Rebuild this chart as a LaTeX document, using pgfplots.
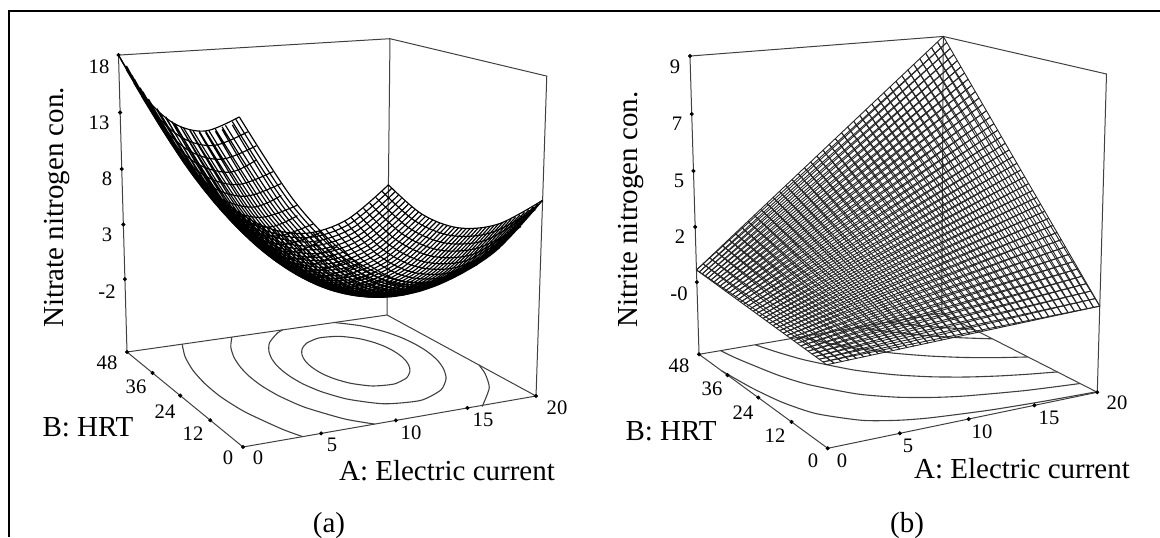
\documentclass[border=0pt]{standalone}
\usepackage{fontspec}
\setmainfont{Liberation Serif}
\usepackage{pgfplots}
\pgfplotsset{compat=1.18}
\newcommand\tickf{\fontsize{10.3}{12}\selectfont}
\newcommand\labf{\fontsize{14.5}{16}\selectfont}
\definecolor{boxc}{gray}{0.25}
\tikzset{declare function={
 ax(\u,\v,\w)=(243+341.8*\u-93.25*\v-16.05*\w)/(1+.091*\u+.1791*\v-.0508*\w);
 ay(\u,\v,\w)=(447-14.96*\u-31.96*\v-352.9*\w)/(1+.091*\u+.1791*\v-.0508*\w);
 bx(\u,\v,\w)=(827.7+374.6*\u-8.3*\v-44.9*\w)/(1+.0957*\u+.1722*\v-.0497*\w);
 by(\u,\v,\w)=(448.3-18.5*\u-33*\v-352.4*\w)/(1+.0957*\u+.1722*\v-.0497*\w);
}}
\pgfplotsset{
 table/PA/.style={x expr={ax(\thisrow{A}/20,\thisrow{B}/48,(\thisrow{z}+8.8)/26.8)},y expr={ay(\thisrow{A}/20,\thisrow{B}/48,(\thisrow{z}+8.8)/26.8)}},
 table/PB/.style={x expr={bx(\thisrow{A}/20,\thisrow{B}/48,(\thisrow{z}+3)/12)},y expr={by(\thisrow{A}/20,\thisrow{B}/48,(\thisrow{z}+3)/12)}},
 % surface (a), lines of constant B: B = 1.2 j, seven nodes A = 0, 10/3, ... 20, then a gap
 table/MR/.style={x expr={ax(mod(\coordindex,8)/6,floor(\coordindex/8)/40,(\thisrow{z}+8.8)/26.8)},y expr={ay(mod(\coordindex,8)/6,floor(\coordindex/8)/40,(\thisrow{z}+8.8)/26.8)}},
 % surface (a), lines of constant A: A = 0.5 i, five nodes B = 0, 12, ... 48, then a gap
 table/MC/.style={x expr={ax(floor(\coordindex/6)/40,mod(\coordindex,6)/4,(\thisrow{z}+8.8)/26.8)},y expr={ay(floor(\coordindex/6)/40,mod(\coordindex,6)/4,(\thisrow{z}+8.8)/26.8)}},
 panel/.style={hide axis,scale only axis,width=290pt,height=268.5pt,ymin=0,ymax=537,y dir=reverse,clip=false,unbounded coords=jump,
   colormap={bk}{color(0)=(black) color(1)=(black)},point meta min=0,point meta max=1},
 boxline/.style={no marks,boxc,line width=.5pt,forget plot},
 cont/.style={no marks,boxc,line width=.55pt,smooth,tension=.4,forget plot},
 tick/.style={only marks,mark=*,mark size=.8pt,black,forget plot},
 surfa/.style={no marks,black,line width=.58pt,smooth,tension=.55,forget plot},
}
\begin{document}
\begin{tikzpicture}
\path[use as bounding box] (0,0) rectangle (580pt,268.5pt);
\begin{axis}[panel,xmin=0,xmax=580,at={(0,0)},anchor=south west]
\draw[black,line width=1.2pt] (axis cs:9,537)--(axis cs:9,11)--(axis cs:580,11);
\addplot[boxline] table[PA]{
A B z
0 48 -8.8
0 48 18
20 48 18
20 48 -8.8
0 48 -8.8
0 0 -8.8
20 0 -8.8
20 48 -8.8
};
\addplot[boxline] table[PA]{
A B z
20 48 18
20 0 18
20 0 -8.8
};
\addplot[tick] table[PA]{
A B z
0 48 18
0 48 13
0 48 8
0 48 3
0 48 -2
0 48 -8.8
0 36 -8.8
0 24 -8.8
0 12 -8.8
0 0 -8.8
5 0 -8.8
10 0 -8.8
15 0 -8.8
20 0 -8.8
};
% contours on the floor
\addplot[cont] table[PA]{
A B z
16.33 27.76 -8.8
16.35 29.86 -8.8
16.28 32.18 -8.8
16.04 34.85 -8.8
15.51 37.83 -8.8
14.50 40.43 -8.8
13.09 41.08 -8.8
11.79 39.37 -8.8
10.93 36.73 -8.8
10.42 34.17 -8.8
10.12 31.88 -8.8
9.94 29.79 -8.8
9.85 27.76 -8.8
9.83 25.66 -8.8
9.90 23.34 -8.8
10.14 20.68 -8.8
10.67 17.69 -8.8
11.68 15.09 -8.8
13.09 14.44 -8.8
14.39 16.15 -8.8
15.25 18.79 -8.8
15.76 21.35 -8.8
16.06 23.64 -8.8
16.24 25.73 -8.8
16.33 27.76 -8.8
};
\addplot[cont] table[PA]{
A B z
11.62 48 -8.8
10.97 46.73 -8.8
9.56 42.42 -8.8
8.73 38.23 -8.8
8.23 34.49 -8.8
7.94 31.07 -8.8
7.79 27.76 -8.8
7.76 24.33 -8.8
7.88 20.54 -8.8
8.27 16.18 -8.8
9.13 11.31 -8.8
10.78 7.06 -8.8
13.09 5.99 -8.8
15.21 8.79 -8.8
16.62 13.10 -8.8
17.45 17.29 -8.8
17.95 21.03 -8.8
18.24 24.45 -8.8
18.39 27.76 -8.8
18.42 31.19 -8.8
18.30 34.98 -8.8
17.91 39.34 -8.8
17.05 44.21 -8.8
15.7 48 -8.8
};
\addplot[cont] table[PA]{
A B z
7.71 48 -8.8
6.75 42.97 -8.8
6.04 37.53 -8.8
5.62 32.57 -8.8
5.39 27.76 -8.8
5.34 22.78 -8.8
5.53 17.28 -8.8
6.08 10.95 -8.8
7.34 3.86 -8.8
8.56 0 -8.8
};
\addplot[cont] table[PA]{
A B z
20 16.7 -8.8
19.43 12.55 -8.8
18.21 6.47 -8.8
16.17 0.21 -8.8
16.06 0 -8.8
};
\addplot[cont] table[PA]{
A B z
4.0 48 -8.8
3.16 41.51 -8.8
2.57 34.53 -8.8
2.26 27.76 -8.8
2.19 20.75 -8.8
2.45 13.01 -8.8
3.23 4.10 -8.8
3.8 0 -8.8
};
\addplot[surfa] table[MR]{
z
16.70
9.96
5.32
2.80
2.39
4.09
7.90
nan
16.42
9.65
5.00
2.45
2.02
3.70
7.49
nan
16.15
9.36
4.68
2.12
1.67
3.32
7.09
nan
15.90
9.09
4.39
1.80
1.33
2.97
6.71
nan
15.66
8.83
4.11
1.51
1.01
2.62
6.35
nan
15.44
8.59
3.85
1.22
.70
2.30
6.00
nan
15.24
8.37
3.60
.95
.42
1.99
5.67
nan
15.05
8.16
3.37
.70
.14
1.70
5.36
nan
14.88
7.97
3.16
.47
-.11
1.42
5.06
nan
14.73
7.79
2.97
.25
-.35
1.16
4.78
nan
14.59
7.63
2.78
.05
-.57
.91
4.51
nan
14.47
7.49
2.62
-.14
-.78
.69
4.26
nan
14.36
7.36
2.47
-.31
-.97
.47
4.03
nan
14.27
7.25
2.34
-.46
-1.15
.28
3.81
nan
14.20
7.16
2.22
-.60
-1.30
.10
3.61
nan
14.14
7.08
2.13
-.72
-1.45
-.06
3.43
nan
14.10
7.02
2.04
-.82
-1.57
-.21
3.26
nan
14.08
6.97
1.98
-.91
-1.68
-.34
3.11
nan
14.07
6.94
1.92
-.98
-1.77
-.46
2.97
nan
14.08
6.93
1.89
-1.04
-1.85
-.55
2.85
nan
14.10
6.93
1.87
-1.08
-1.91
-.64
2.75
nan
14.14
6.95
1.87
-1.10
-1.96
-.70
2.66
nan
14.20
6.99
1.88
-1.10
-1.98
-.75
2.59
nan
14.27
7.04
1.92
-1.10
-2.00
-.78
2.54
nan
14.36
7.11
1.96
-1.07
-1.99
-.80
2.50
nan
14.47
7.19
2.03
-1.03
-1.97
-.80
2.48
nan
14.59
7.29
2.10
-.97
-1.93
-.79
2.47
nan
14.73
7.41
2.20
-.90
-1.88
-.75
2.48
nan
14.88
7.54
2.31
-.81
-1.81
-.71
2.51
nan
15.05
7.69
2.44
-.70
-1.73
-.64
2.55
nan
15.24
7.86
2.58
-.58
-1.62
-.56
2.61
nan
15.44
8.04
2.75
-.44
-1.51
-.46
2.69
nan
15.66
8.24
2.92
-.28
-1.37
-.35
2.78
nan
15.90
8.45
3.12
-.11
-1.22
-.22
2.89
nan
16.15
8.68
3.32
.08
-1.05
-.08
3.01
nan
16.42
8.93
3.55
.29
-.87
.09
3.15
nan
16.70
9.19
3.79
.51
-.67
.26
3.31
nan
17.00
9.47
4.05
.74
-.46
.46
3.48
nan
17.32
9.77
4.33
1.00
-.22
.67
3.67
nan
17.65
10.08
4.62
1.27
.03
.90
3.88
nan
18.00
10.41
4.92
1.55
.29
1.14
4.10
};
\addplot[surfa] table[MC]{
z
16.70
14.59
14.10
15.24
18.00
nan
15.55
13.41
12.89
14.00
16.73
nan
14.46
12.28
11.73
12.80
15.50
nan
13.40
11.20
10.61
11.65
14.32
nan
12.40
10.16
9.55
10.55
13.19
nan
11.44
9.17
8.53
9.50
12.11
nan
10.54
8.23
7.55
8.50
11.07
nan
9.67
7.34
6.63
7.54
10.08
nan
8.86
6.49
5.75
6.63
9.14
nan
8.09
5.69
4.92
5.77
8.25
nan
7.38
4.94
4.14
4.96
7.40
nan
6.70
4.24
3.40
4.19
6.60
nan
6.08
3.58
2.72
3.47
5.85
nan
5.50
2.98
2.08
2.80
5.15
nan
4.98
2.42
1.48
2.17
4.49
nan
4.49
1.90
.94
1.60
3.88
nan
4.06
1.44
.44
1.07
3.32
nan
3.67
1.02
-.01
.59
2.81
nan
3.34
.65
-.41
.15
2.34
nan
3.04
.33
-.77
-.23
1.92
nan
2.80
.05
-1.08
-.57
1.55
nan
2.60
-.18
-1.33
-.87
1.23
nan
2.46
-.36
-1.55
-1.11
.95
nan
2.35
-.49
-1.71
-1.31
.72
nan
2.30
-.58
-1.83
-1.46
.54
nan
2.29
-.62
-1.90
-1.56
.41
nan
2.34
-.61
-1.92
-1.61
.32
nan
2.42
-.55
-1.90
-1.62
.28
nan
2.56
-.44
-1.83
-1.58
.29
nan
2.74
-.29
-1.71
-1.49
.35
nan
2.98
-.09
-1.54
-1.36
.45
nan
3.25
.15
-1.32
-1.17
.60
nan
3.58
.45
-1.06
-.94
.80
nan
3.95
.79
-.75
-.66
1.05
nan
4.38
1.18
-.39
-.34
1.34
nan
4.84
1.62
.01
.03
1.68
nan
5.36
2.10
.46
.46
2.07
nan
5.92
2.63
.96
.92
2.51
nan
6.54
3.21
1.51
1.44
2.99
nan
7.19
3.84
2.11
2.00
3.52
nan
7.90
4.51
2.75
2.61
4.10
};
\node[font=\tickf] at (axis cs:99,67) {18};
\node[font=\tickf] at (axis cs:99,123) {13};
\node[font=\tickf] at (axis cs:107,179) {8};
\node[font=\tickf] at (axis cs:107,235) {3};
\node[font=\tickf] at (axis cs:107,292) {-2};
\node[font=\tickf] at (axis cs:107,363) {48};
\node[font=\tickf] at (axis cs:136,387) {36};
\node[font=\tickf] at (axis cs:165,412) {24};
\node[font=\tickf] at (axis cs:193,434) {12};
\node[font=\tickf] at (axis cs:228,458) {0};
\node[font=\tickf] at (axis cs:258,458) {0};
\node[font=\tickf] at (axis cs:332,445) {5};
\node[font=\tickf] at (axis cs:411,433) {10};
\node[font=\tickf] at (axis cs:483,420) {15};
\node[font=\tickf] at (axis cs:557,408) {20};
\node[font=\labf,rotate=90,anchor=base] at (axis cs:63,207.5) {Nitrate nitrogen con.};
\node[font=\labf] at (axis cs:88,427) {B: HRT};
\node[font=\labf] at (axis cs:447,471) {A: Electric current};
\node[font=\labf] at (axis cs:329,526) {(a)};
\end{axis}
\begin{axis}[panel,xmin=580,xmax=1160,at={(290pt,0)},anchor=south west]
\draw[black,line width=1.2pt] (axis cs:580,11)--(axis cs:1160,11);
\addplot[boxline] table[PB]{
A B z
0 48 -3
0 48 9
20 48 9
20 48 -3
0 48 -3
0 0 -3
20 0 -3
20 48 -3
};
\addplot[boxline] table[PB]{
A B z
20 48 9
20 0 9
20 0 -3
};
\addplot[tick] table[PB]{
A B z
0 48 9
0 48 6.75
0 48 4.5
0 48 2.25
0 48 0
0 48 -3
0 36 -3
0 24 -3
0 12 -3
0 0 -3
5 0 -3
10 0 -3
15 0 -3
20 0 -3
};
\addplot[cont] table[PB]{
A B z
0 38.4 -3
.4 28.46 -3
1 20.21 -3
2 13.3 -3
4 7.39 -3
6 4.75 -3
8 3.26 -3
12 1.63 -3
16 .77 -3
20 .24 -3
};
\addplot[cont] table[PB]{
A B z
1.65 48 -3
2 42.53 -3
3 31.97 -3
4 25.44 -3
6 17.81 -3
8 13.49 -3
10 10.7 -3
12 8.78 -3
16 6.24 -3
20 4.66 -3
};
\addplot[cont] table[PB]{
A B z
4.35 48 -3
5 42.82 -3
6 36.58 -3
8 28.18 -3
10 22.8 -3
12 19.01 -3
14 16.22 -3
16 14.11 -3
18 12.43 -3
20 11.04 -3
};
\addplot[cont] table[PB]{
A B z
8 48 -3
9 43.1 -3
10 39.07 -3
12 32.83 -3
14 28.27 -3
16 24.72 -3
18 21.94 -3
20 19.68 -3
};
\addplot[cont] table[PB]{
A B z
12.7 48 -3
14 43.73 -3
16 38.4 -3
18 34.18 -3
20 30.77 -3
};
\addplot[cont] table[PB]{
A B z
15.3 48 -3
16 45.9 -3
18 40.9 -3
20 36.9 -3
};
% response surface (b): a ruled surface, its grid lines run straight between the edge values
\addplot[mesh,mesh/rows=41,mesh/cols=2,line width=.45pt,colormap={gk}{color(0)=(black!85) color(1)=(black!85)},forget plot] table[PB]{
A B z
0 0 0
20 0 .36
0 1.2 .0125
20 1.2 .576
0 2.4 .025
20 2.4 .792
0 3.6 .0375
20 3.6 1.008
0 4.8 .05
20 4.8 1.224
0 6 .0625
20 6 1.44
0 7.2 .075
20 7.2 1.656
0 8.4 .0875
20 8.4 1.872
0 9.6 .1
20 9.6 2.088
0 10.8 .1125
20 10.8 2.304
0 12 .125
20 12 2.52
0 13.2 .1375
20 13.2 2.736
0 14.4 .15
20 14.4 2.952
0 15.6 .1625
20 15.6 3.168
0 16.8 .175
20 16.8 3.384
0 18 .1875
20 18 3.6
0 19.2 .2
20 19.2 3.816
0 20.4 .2125
20 20.4 4.032
0 21.6 .225
20 21.6 4.248
0 22.8 .2375
20 22.8 4.464
0 24 .25
20 24 4.68
0 25.2 .2625
20 25.2 4.896
0 26.4 .275
20 26.4 5.112
0 27.6 .2875
20 27.6 5.328
0 28.8 .3
20 28.8 5.544
0 30 .3125
20 30 5.76
0 31.2 .325
20 31.2 5.976
0 32.4 .3375
20 32.4 6.192
0 33.6 .35
20 33.6 6.408
0 34.8 .3625
20 34.8 6.624
0 36 .375
20 36 6.84
0 37.2 .3875
20 37.2 7.056
0 38.4 .4
20 38.4 7.272
0 39.6 .4125
20 39.6 7.488
0 40.8 .425
20 40.8 7.704
0 42 .4375
20 42 7.92
0 43.2 .45
20 43.2 8.136
0 44.4 .4625
20 44.4 8.352
0 45.6 .475
20 45.6 8.568
0 46.8 .4875
20 46.8 8.784
0 48 .5
20 48 9
};
\addplot[mesh,mesh/rows=41,mesh/cols=2,line width=.45pt,colormap={gk}{color(0)=(black!85) color(1)=(black!85)},forget plot] table[PB]{
A B z
0 0 0
0 48 .5
.5 0 .009
.5 48 .7125
1 0 .018
1 48 .925
1.5 0 .027
1.5 48 1.1375
2 0 .036
2 48 1.35
2.5 0 .045
2.5 48 1.5625
3 0 .054
3 48 1.775
3.5 0 .063
3.5 48 1.9875
4 0 .072
4 48 2.2
4.5 0 .081
4.5 48 2.4125
5 0 .09
5 48 2.625
5.5 0 .099
5.5 48 2.8375
6 0 .108
6 48 3.05
6.5 0 .117
6.5 48 3.2625
7 0 .126
7 48 3.475
7.5 0 .135
7.5 48 3.6875
8 0 .144
8 48 3.9
8.5 0 .153
8.5 48 4.1125
9 0 .162
9 48 4.325
9.5 0 .171
9.5 48 4.5375
10 0 .18
10 48 4.75
10.5 0 .189
10.5 48 4.9625
11 0 .198
11 48 5.175
11.5 0 .207
11.5 48 5.3875
12 0 .216
12 48 5.6
12.5 0 .225
12.5 48 5.8125
13 0 .234
13 48 6.025
13.5 0 .243
13.5 48 6.2375
14 0 .252
14 48 6.45
14.5 0 .261
14.5 48 6.6625
15 0 .27
15 48 6.875
15.5 0 .279
15.5 48 7.0875
16 0 .288
16 48 7.3
16.5 0 .297
16.5 48 7.5125
17 0 .306
17 48 7.725
17.5 0 .315
17.5 48 7.9375
18 0 .324
18 48 8.15
18.5 0 .333
18.5 48 8.3625
19 0 .342
19 48 8.575
19.5 0 .351
19.5 48 8.7875
20 0 .36
20 48 9
};
\node[font=\tickf] at (axis cs:675,67) {9};
\node[font=\tickf] at (axis cs:677,124) {7};
\node[font=\tickf] at (axis cs:679,181) {5};
\node[font=\tickf] at (axis cs:680,237) {2};
\node[font=\tickf] at (axis cs:679,294) {-0};
\node[font=\tickf] at (axis cs:679,366) {48};
\node[font=\tickf] at (axis cs:712,389) {36};
\node[font=\tickf] at (axis cs:743,413) {24};
\node[font=\tickf] at (axis cs:775,436) {12};
\node[font=\tickf] at (axis cs:813,461) {0};
\node[font=\tickf] at (axis cs:842,461) {0};
\node[font=\tickf] at (axis cs:908,446) {5};
\node[font=\tickf] at (axis cs:982,432) {10};
\node[font=\tickf] at (axis cs:1049,418) {15};
\node[font=\tickf] at (axis cs:1117,403) {20};
\node[font=\labf,rotate=90,anchor=base] at (axis cs:637,209.5) {Nitrite nitrogen con.};
\node[font=\labf] at (axis cs:671,431) {B: HRT};
\node[font=\labf] at (axis cs:1022,469) {A: Electric current};
\node[font=\labf] at (axis cs:907,526) {(b)};
\end{axis}
\end{tikzpicture}
\end{document}
